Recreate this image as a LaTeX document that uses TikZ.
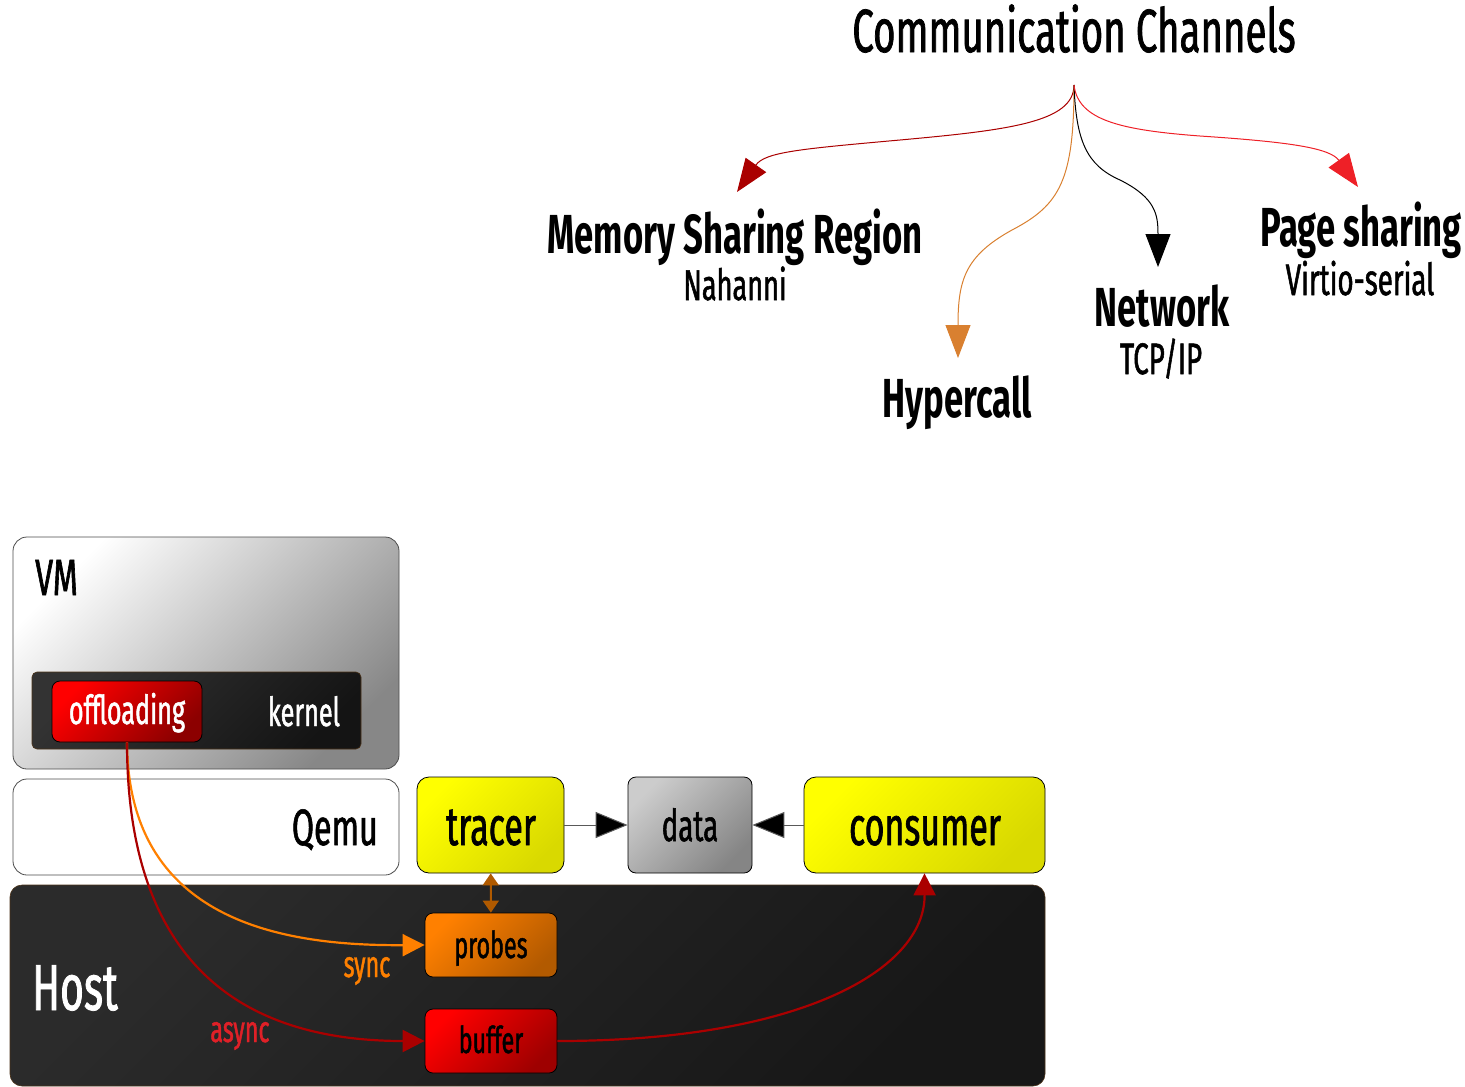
\documentclass[tikz,border=0pt]{standalone}
\usepackage{fontspec}
\setmainfont[FakeStretch=0.63, UprightFeatures={FakeBold=1.2}]{Fira Sans}
\usetikzlibrary{arrows.meta}
\definecolor{dred}{HTML}{AA0000}
\definecolor{hypor}{HTML}{D98030}
\definecolor{pgred}{HTML}{EE2027}
\definecolor{syncor}{HTML}{FF8000}
\definecolor{asyncred}{HTML}{E02027}
\definecolor{tpbrown}{HTML}{B05A00}
\newcommand{\fs}[1]{\fontsize{#1}{#1}\selectfont}
\tikzset{
  box/.style={rectangle, rounded corners=#1, inner sep=0pt},
  box/.default=10pt,
  grad/.style 2 args={top color=#1, bottom color=#2, shading angle=45},
  txt/.style={inner sep=0pt, anchor=base},
  bigtip/.style={-{Triangle[length=33pt,width=25pt]}},
  midtip/.style={-{Triangle[length=22pt,width=22pt]}},
}
\begin{document}
\begin{tikzpicture}[x=1pt,y=-1pt]
\useasboundingbox (0,0) rectangle (1465,1087);

% ---------------- top tree ----------------
\node[txt] (title) at (1074,52) {\fs{61}Communication Channels};
\coordinate (root) at (1074,85);
\coordinate (memtip) at (737,192);
\coordinate (hyptip) at (958,358);
\coordinate (nettip) at (1158,267);
\coordinate (pagetip) at (1358,187);

\node[txt] (mem) at (735,253) {\fs{55}\bfseries Memory Sharing Region};
\node[txt] (nah) at (735,300) {\fs{43}Nahanni};
\node[txt] (hyp) at (957,417) {\fs{55}\bfseries Hypercall};
\node[txt] (net) at (1162,326) {\fs{55}\bfseries Network};
\node[txt] (tcp) at (1161,374) {\fs{44}TCP/IP};
\node[txt] (page) at (1361,246) {\fs{55}\bfseries Page sharing};
\node[txt] (virt) at (1360,295) {\fs{44}Virtio-serial};

\draw[dred, line width=1pt, bigtip] (root) .. controls (1074,122) and (1010,130) .. (900,140)
   .. controls (800,149) and (765,152) .. (memtip);
\draw[hypor, line width=1pt, bigtip] (root) .. controls (1074,180) and (1060,205) .. (1012,230)
   .. controls (965,256) and (958,280) .. (hyptip);
\draw[black, line width=1pt, bigtip] (root) .. controls (1076,140) and (1086,165) .. (1120,180)
   .. controls (1156,198) and (1158,215) .. (nettip);
\draw[pgred, line width=1pt, bigtip] (root) .. controls (1078,120) and (1120,130) .. (1200,136)
   .. controls (1290,142) and (1330,148) .. (pagetip);

% ---------------- bottom diagram ----------------
\node[box=14pt, draw=black!70, line width=0.8pt, grad={white}{black!47},
      minimum width=386pt, minimum height=232pt] (vm) at (206,653) {};
\node[txt, anchor=base west] (vmt) at (35,595) {\fs{51}VM};
\node[box=5pt, draw=black!60!brown, line width=0.6pt, grad={black!80}{black!92},
      minimum width=329pt, minimum height=77pt] (kern) at (196.5,710.5) {};
\node[txt, white] (kernt) at (304,726) {\fs{40}kernel};
\node[box=8pt, draw=black, line width=0.8pt, grad={red}{red!55!black},
      minimum width=150pt, minimum height=61pt] (off) at (127,711.5) {};
\node[txt, white] (offt) at (127,724) {\fs{40}offloading};

\node[box=14pt, draw=black!70, line width=0.8pt, fill=white,
      minimum width=386pt, minimum height=96pt] (qemu) at (206,827) {};
\node[txt, anchor=base east] (qemut) at (378,845) {\fs{51}Qemu};

\node[box=12pt, draw=black!60!brown, line width=0.6pt, grad={black!83}{black!91},
      minimum width=1035pt, minimum height=201pt] (host) at (527.5,985.5) {};
\node[txt, anchor=base west, white] (hostt) at (32,1010) {\fs{65}Host};

\node[box=12pt, draw=black, line width=0.8pt, grad={yellow}{yellow!85!black},
      minimum width=147pt, minimum height=96pt] (tracer) at (490.5,825) {};
\node[txt] (tracert) at (491,845) {\fs{54}tracer};
\node[box=8pt, draw=black, line width=0.8pt, grad={black!20}{black!48},
      minimum width=124pt, minimum height=96pt] (data) at (690,825) {};
\node[txt] (datat) at (690,841) {\fs{44}data};
\node[box=12pt, draw=black, line width=0.8pt, grad={yellow}{yellow!85!black},
      minimum width=241pt, minimum height=96pt] (cons) at (924.5,825) {};
\node[txt] (const) at (925,845) {\fs{54}consumer};

\node[box=8pt, draw=black, line width=0.8pt, grad={syncor}{syncor!70!black},
      minimum width=132pt, minimum height=64pt] (probes) at (491,945) {};
\node[txt] (probest) at (491,958) {\fs{37}probes};
\node[box=8pt, draw=black, line width=0.8pt, grad={red}{red!62!black},
      minimum width=132pt, minimum height=64pt] (buffer) at (491,1041) {};
\node[txt] (buffert) at (491,1053) {\fs{37}buffer};

% connectors
\draw[black!65, line width=1pt, -{Triangle[length=32pt,width=26pt,fill=black]}] (tracer) -- (data);
\draw[black!65, line width=1pt, -{Triangle[length=32pt,width=26pt,fill=black]}] (cons) -- (data);
\draw[tpbrown, line width=2pt, {Triangle[length=12pt,width=16pt]}-{Triangle[length=12pt,width=16pt]}] (tracer) -- (probes);

\draw[syncor, line width=2.2pt, midtip] (off.south) .. controls (128,920) and (280,946) .. (probes.west);
\draw[dred, line width=2.2pt, midtip] (off.south) .. controls (127,930) and (210,1041) .. (buffer.west);
\draw[dred, line width=2.2pt, midtip] (buffer.east) .. controls (800,1041) and (925,970) .. (cons.south);

\node[txt, syncor] (synct) at (367,977) {\fs{37}sync};
\node[txt, asyncred] (asynct) at (240,1042) {\fs{37}async};
\end{tikzpicture}
\end{document}
